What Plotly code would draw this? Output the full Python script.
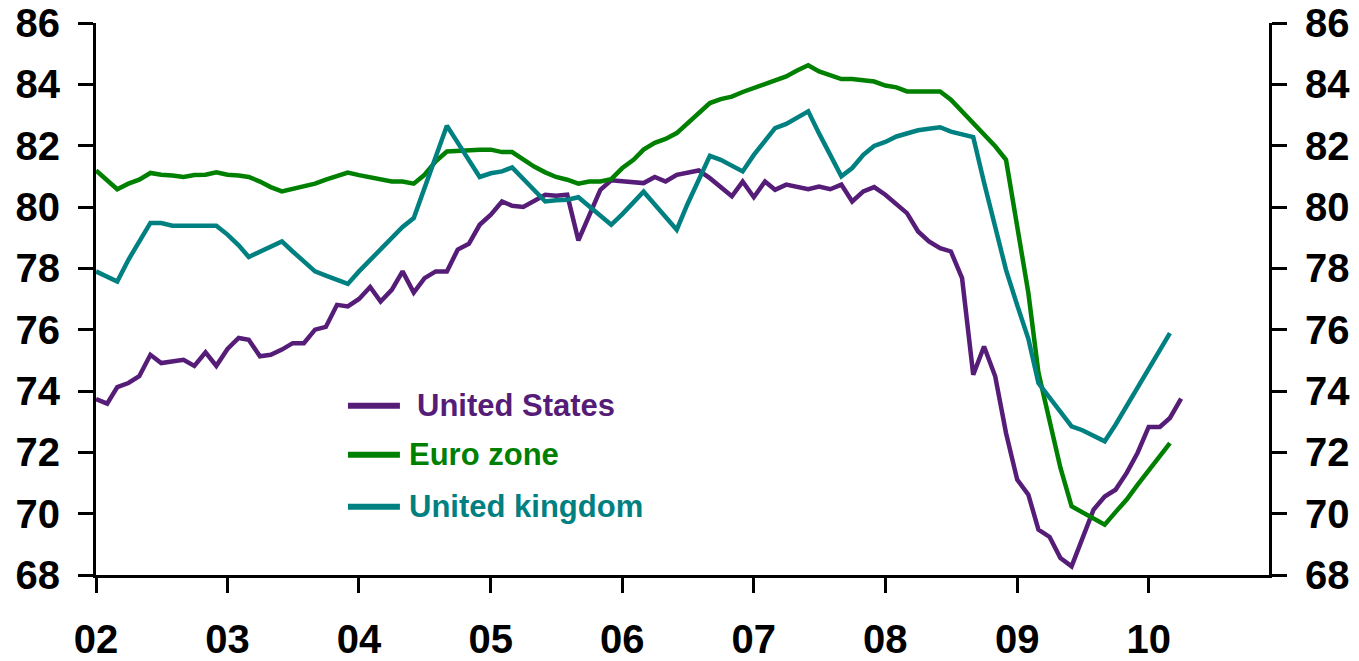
import pandas as pd
import plotly.graph_objects as go

start_month = "2002-01-01"
tick_years = [2002, 2003, 2004, 2005, 2006, 2007, 2008, 2009, 2010]
tick_labels = ["02", "03", "04", "05", "06", "07", "08", "09", "10"]

us = [73.74, 73.59, 74.13, 74.26, 74.48, 75.18, 74.91, 74.96, 75.02, 74.82,
      75.26, 74.82, 75.37, 75.73, 75.67, 75.13, 75.18, 75.35, 75.56, 75.56,
      76.00, 76.09, 76.81, 76.76, 77.00, 77.39, 76.92, 77.30, 77.90, 77.21,
      77.68, 77.90, 77.90, 78.61, 78.80, 79.42, 79.75, 80.18, 80.04, 80.00,
      80.21, 80.40, 80.37, 80.40, 78.91, 79.70, 80.56, 80.87, 80.83, 80.78,
      80.78, 80.98, 80.83, 81.05, 81.13, 81.19, 80.94, 80.67, 80.35, 80.83,
      80.32, 80.83, 80.56, 80.73, 80.65, 80.58, 80.67, 80.58, 80.73, 80.18,
      80.51, 80.65, 80.40, 80.11, 79.80, 79.20, 78.88, 78.66, 78.55, 77.68,
      74.53, 75.45, 74.48, 72.63, 71.11, 70.62, 69.48, 69.24, 68.55, 68.28,
      69.15, 70.13, 70.56, 70.78, 71.33, 71.98, 72.83, 72.83, 73.12, 73.75]

euro = [81.19, 80.88, 80.58, 80.76, 80.89, 81.11, 81.05, 81.03, 80.98, 81.04,
        81.05, 81.13, 81.05, 81.03, 80.98, 80.83, 80.65, 80.51, 80.58, 80.67,
        80.76, 80.89, 81.00, 81.12, 81.04, 80.98, 80.91, 80.83, 80.83, 80.76,
        81.05, 81.49, 81.81, 81.83, 81.87, 81.87, 81.87, 81.79, 81.79, 81.54,
        81.32, 81.13, 80.98, 80.89, 80.76, 80.83, 80.83, 80.91, 81.27, 81.54,
        81.87, 82.09, 82.22, 82.41, 82.74, 83.04, 83.39, 83.52, 83.60, 83.75,
        83.88, 84.01, 84.12, 84.26, 84.45, 84.62, 84.42, 84.31, 84.17, 84.17,
        84.13, 84.09, 83.96, 83.90, 83.77, 83.77, 83.77, 83.77, 83.50, 83.12,
        82.74, 82.32, 81.98, 81.54, 79.30, 77.20, 74.60, 73.00, 71.50, 70.24,
        70.04, 69.84, 69.64, 70.05, 70.46, 70.94, 71.40, 71.85, 72.30]

uk = [77.90, 77.73, 77.57, 78.28, 78.90, 79.48, 79.48, 79.39, 79.39, 79.39,
      79.39, 79.39, 79.10, 78.75, 78.37, 78.54, 78.71, 78.88, 78.55, 78.23,
      77.90, 77.76, 77.62, 77.49, 77.90, 78.28, 78.65, 79.00, 79.35, 79.64,
      80.60, 81.60, 82.65, 82.10, 81.50, 80.98, 81.10, 81.16, 81.29, 80.90,
      80.55, 80.18, 80.22, 80.24, 80.32, 80.02, 79.70, 79.42, 79.77, 80.13,
      80.50, 80.08, 79.67, 79.26, 80.10, 80.90, 81.67, 81.54, 81.35, 81.16,
      81.70, 82.15, 82.57, 82.71, 82.92, 83.12, 82.40, 81.70, 81.00, 81.27,
      81.70, 81.99, 82.12, 82.30, 82.41, 82.50, 82.55, 82.60, 82.46, 82.38,
      82.28, 80.80, 79.37, 77.95, 76.80, 75.70, 74.26, 73.80, 73.30, 72.85,
      72.72, 72.55, 72.36, 72.90, 73.50, 74.10, 74.70, 75.30, 75.89]

series_names = ["United States", "Euro zone", "United kingdom"]
series_colors = ["#561D78", "#008000", "#008080"]
series_values = [us, euro, uk]

FONT = "Liberation Sans, Arial, sans-serif"

fig = go.Figure()
for name, color, vals in zip(series_names, series_colors, series_values):
    dates = pd.date_range(start_month, periods=len(vals), freq="MS")
    fig.add_trace(go.Scatter(x=dates, y=vals, mode="lines", name=name,
                             line=dict(color=color, width=4.5), showlegend=False))

# invisible trace so the right-hand axis is drawn
fig.add_trace(go.Scatter(x=pd.date_range(start_month, periods=len(us), freq="MS"),
                         y=us, yaxis="y2", mode="lines", line=dict(width=0),
                         opacity=0, showlegend=False, hoverinfo="skip"))

tickvals = [pd.Timestamp(year=y, month=1, day=1) for y in tick_years]

axis_font = dict(family=FONT, size=40, color="black", weight="bold")
common_y = dict(range=[68, 86], dtick=2, tick0=68,
                ticks="outside", ticklen=15, tickwidth=3, tickcolor="black",
                showline=True, linewidth=3, linecolor="black",
                showgrid=False, zeroline=False, automargin=False,
                ticklabeloverflow="allow",
                tickfont=axis_font, ticklabelstandoff=10)

fig.update_layout(
    width=1359, height=661, autosize=False,
    margin=dict(l=96, r=90, t=23, b=86, pad=0),
    paper_bgcolor="white", plot_bgcolor="white",
    xaxis=dict(type="date", range=["2002-01-01", "2010-12-01"],
               tickvals=tickvals, ticktext=tick_labels,
               ticks="outside", ticklen=15, tickwidth=3, tickcolor="black",
               showline=True, linewidth=3, linecolor="black",
               showgrid=False, zeroline=False, automargin=False,
               ticklabeloverflow="allow",
               tickfont=axis_font, ticklabelstandoff=12),
    yaxis=dict(**common_y),
    yaxis2=dict(**common_y, overlaying="y", side="right"),
)

# legend drawn as line samples + coloured labels
leg_y = [0.3065, 0.2178, 0.1237]
leg_text_x = [0.2719, 0.2653, 0.2653]
for name, color, yy, tx in zip(series_names, series_colors, leg_y, leg_text_x):
    fig.add_shape(type="line", xref="paper", yref="paper",
                  x0=0.2148, x1=0.2591, y0=yy, y1=yy,
                  line=dict(color=color, width=6))
    fig.add_annotation(xref="paper", yref="paper", x=tx, y=yy,
                       xanchor="left", yanchor="middle", showarrow=False,
                       text=name,
                       font=dict(family=FONT, size=31, color=color, weight="bold"))

fig.write_html("out.html",
               config={"displayModeBar": False},
               post_script="document.body.style.margin='0';")
